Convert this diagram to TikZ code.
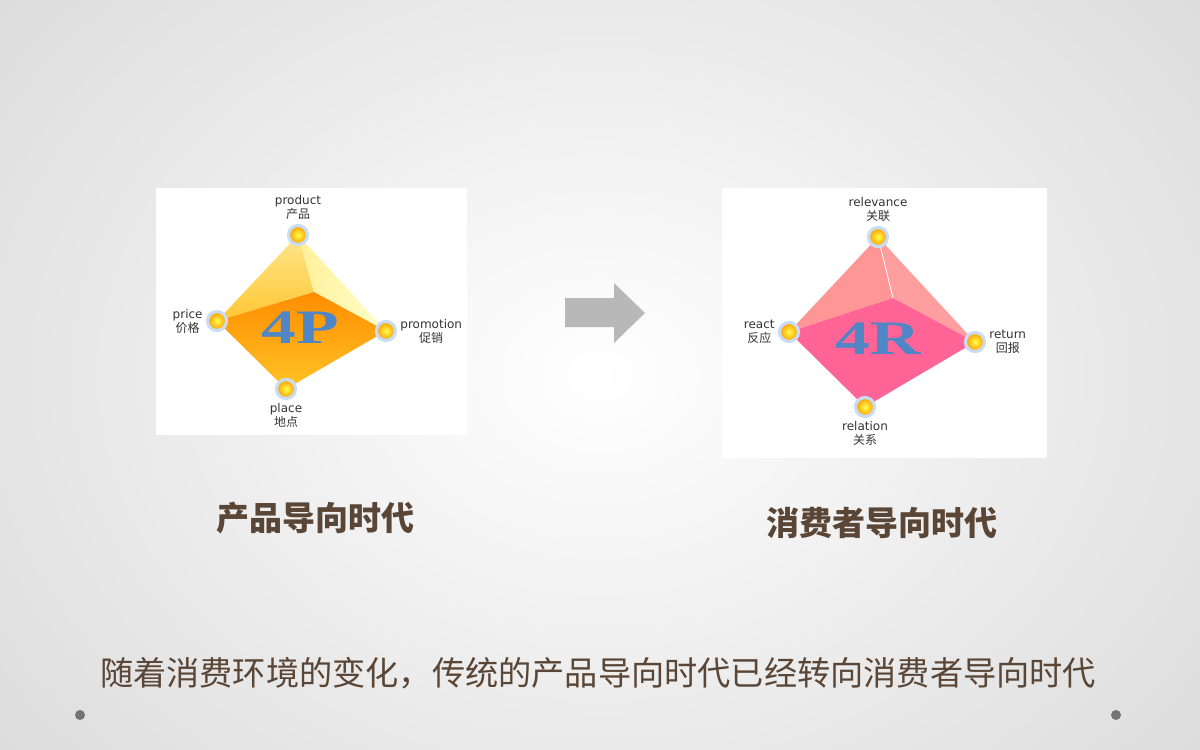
\documentclass[tikz,border=0pt]{standalone}
\usepackage{fontspec}
\setmainfont{Liberation Serif}
\newfontfamily\cjk{Noto Sans CJK SC}
\newfontfamily\lsans{DejaVu Sans}
\usetikzlibrary{shadings}
\definecolor{txt}{HTML}{5A4636}
\definecolor{blueL}{HTML}{4F86C6}
\definecolor{ring}{HTML}{C8DCF4}
\tikzset{
  dot/.style={circle,draw=ring,line width=1.6pt,inner sep=0pt,minimum size=9.5pt,shade,shading=radial,inner color=yellow!70!white,outer color=orange!80!yellow},
  lab/.style={font=\lsans\fontsize{6}{7}\selectfont,align=center,text=black!80,inner sep=1pt},
  big/.style={font=\cjk\fontsize{16.5}{19}\selectfont\bfseries,text=txt},
  logo/.style={text=blueL,font=\bfseries\fontsize{24}{26}\selectfont,xscale=1.45},
}
\begin{document}
\begin{tikzpicture}[x=0.5pt,y=-0.5pt]
\useasboundingbox (0,0) rectangle (1200,750);
\shade[inner color=white,outer color=black!14] (-200,-250) rectangle (1400,1000);
\path[use as bounding box] (0,0) rectangle (1200,750);
% 4P
\fill[white] (156,188) rectangle (467,435);
\coordinate (pt) at (298,235); \coordinate (pl) at (217,321); \coordinate (pr) at (386,331);
\coordinate (pb) at (286,389); \coordinate (pi) at (314,292);
\shade[top color=yellow!55!orange!45,bottom color=orange!55!yellow!80] (pt)--(pl)--(pi)--cycle;
\shade[left color=orange!30!yellow!40,right color=yellow!20!white] (pt)--(pi)--(pr)--cycle;
\shade[top color=orange!90!yellow,bottom color=orange!55!yellow!85] (pl)--(pi)--(pr)--(pb)--cycle;
\node[logo] (p4) at (300,328) {4P};
\node[dot] (dpt) at (pt) {}; \node[dot] (dpl) at (pl) {}; \node[dot] (dpr) at (pr) {}; \node[dot] (dpb) at (pb) {};
\node[lab,above] (lpt) at (298,222) {product\\{\cjk 产品}};
\node[lab,left] (lpl) at (205,321) {price\\{\cjk 价格}};
\node[lab,right] (lpr) at (398,331) {promotion\\{\cjk 促销}};
\node[lab,below] (lpb) at (286,401) {place\\{\cjk 地点}};
% arrow
\fill[black!28] (565,298) -- (614,298) -- (614,283) -- (645,313) -- (614,343) -- (614,327) -- (565,327) -- cycle;
% 4R
\fill[white] (722,188) rectangle (1047,458);
\coordinate (rt) at (878,237); \coordinate (rl) at (789,332); \coordinate (rr) at (975,342);
\coordinate (rb) at (865,407); \coordinate (ri) at (893,298);
\fill[fill={rgb,255:red,255;green,150;blue,150}] (rt)--(rl)--(ri)--cycle;
\fill[fill={rgb,255:red,255;green,158;blue,158}] (rt)--(ri)--(rr)--cycle;
\draw[white,line width=0.4pt] (rt)--(ri);
\fill[fill={rgb,255:red,255;green,100;blue,150}] (rl)--(ri)--(rr)--(rb)--cycle;
\node[logo] (r4) at (878,339) {4R};
\node[dot] (drt) at (rt) {}; \node[dot] (drl) at (rl) {}; \node[dot] (drr) at (rr) {}; \node[dot] (drb) at (rb) {};
\node[lab,above] (lrt) at (878,224) {relevance\\{\cjk 关联}};
\node[lab,left] (lrl) at (777,332) {react\\{\cjk 反应}};
\node[lab,right] (lrr) at (987,342) {return\\{\cjk 回报}};
\node[lab,below] (lrb) at (865,419) {relation\\{\cjk 关系}};
% titles
\node[big] (t1) at (315,518) {产品导向时代};
\node[big] (t2) at (882,523) {消费者导向时代};
\node[font=\cjk\fontsize{16.6}{19}\selectfont,text=txt] (t3) at (598,673) {随着消费环境的变化，传统的产品导向时代已经转向消费者导向时代};
\fill[black!55] (80,715) circle (5);
\fill[black!55] (1116,715) circle (5);
\end{tikzpicture}
\end{document}
